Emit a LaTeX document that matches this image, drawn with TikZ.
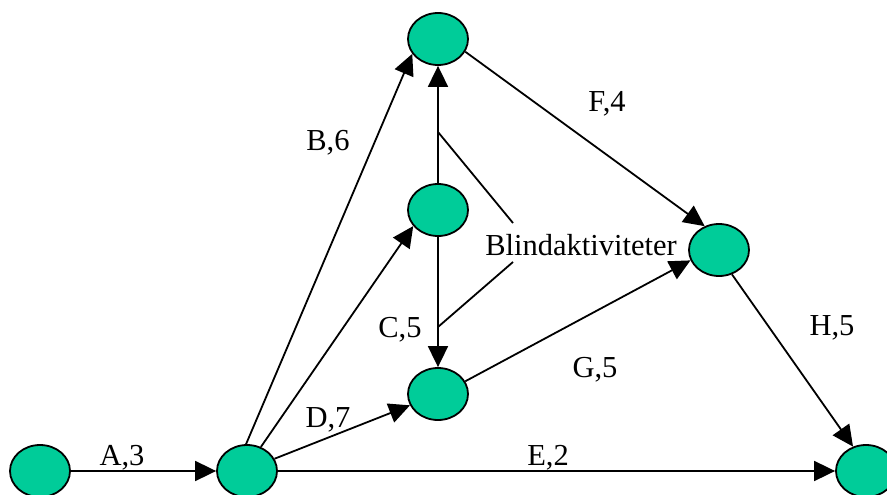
\documentclass[tikz,border=0pt]{standalone}
\usepackage{fontspec}
\setmainfont{Liberation Serif}
\usetikzlibrary{arrows.meta,shapes.geometric}
\definecolor{evfill}{RGB}{0,204,153}
\tikzset{
  ev/.style={ellipse, draw=black, line width=1.8pt, fill=evfill, minimum width=60pt, minimum height=52pt, inner sep=0pt},
  act/.style={line width=1.8pt, -{Triangle[length=21pt,width=20pt]}},
  lbl/.style={anchor=base, inner sep=0pt, font=\fontsize{30.5}{36}\selectfont},
  blindline/.style={line width=1.8pt}
}
\begin{document}
\begin{tikzpicture}[x=1pt,y=-1pt]
\useasboundingbox (0,0) rectangle (887,495);
\node[ev] (n1) at (40,471) {};
\node[ev] (n2) at (247,471) {};
\node[ev] (n3) at (438,39) {};
\node[ev] (n4) at (438,210) {};
\node[ev] (n5) at (438,394) {};
\node[ev] (n6) at (719,250) {};
\node[ev] (n7) at (866,471) {};

\draw[act] (n1.east) -- (n2.west);
\draw[act] (n2.92) -- (n3.210);
\draw[act] (n2.60) -- (n4.213);
\draw[act] (n2.24) -- (n5.202);
\draw[act] (n2.east) -- (n7.west);
\draw[act] (n4.south) -- (n5.north);
\draw[act] (n4.north) -- (n3.south);
\draw[act] (n3.-25) -- (n6.121);
\draw[act] (n5.25) -- (n6.200);
\draw[act] (n6.-62) -- (n7.118);

\node[lbl] (la) at (122,465) {A,3};
\node[lbl] (lb) at (328,150) {B,6};
\node[lbl] (lc) at (400,337) {C,5};
\node[lbl] (ld) at (328,427) {D,7};
\node[lbl] (le) at (548,465) {E,2};
\node[lbl] (lf) at (607,112) {F,4};
\node[lbl] (lg) at (595,377) {G,5};
\node[lbl] (lh) at (832,335) {H,5};
\node[lbl] (blind) at (581,255) {Blindaktiviteter};

\coordinate (b1) at (438,132);
\coordinate (b1e) at (513,223);
\coordinate (b2) at (438,327);
\coordinate (b2e) at (513,262);
\draw[blindline] (b1) -- (b1e);
\draw[blindline] (b2) -- (b2e);
\end{tikzpicture}
\end{document}
